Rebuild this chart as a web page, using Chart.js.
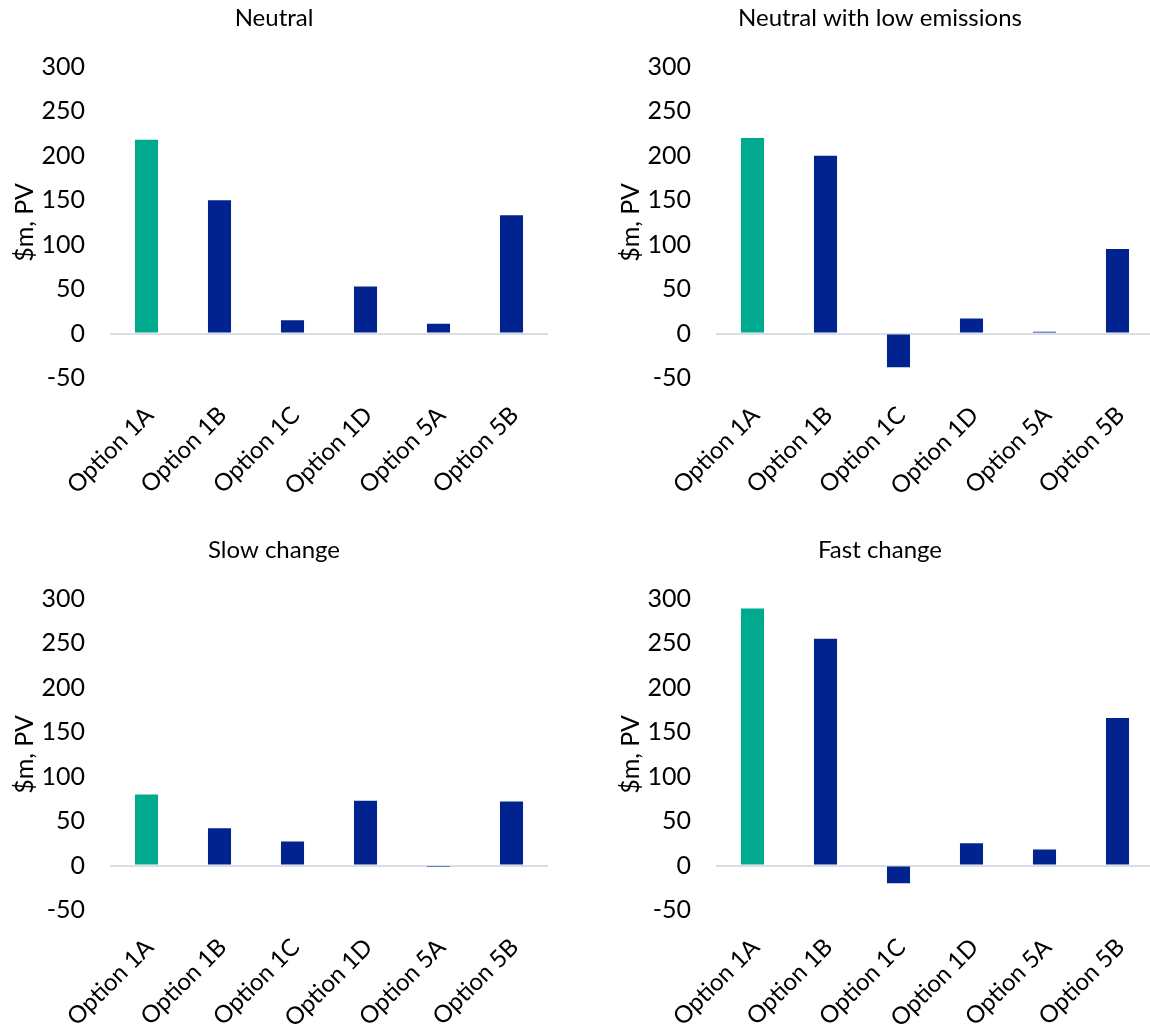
<!DOCTYPE html>
<html>
<head>
<meta charset="utf-8">
<script src="https://cdn.jsdelivr.net/npm/chart.js@4/dist/chart.umd.min.js"></script>
<style>
  html, body { margin: 0; padding: 0; background: #ffffff; }
  body { width: 1150px; height: 1025px; overflow: hidden; position: relative; }
  .panel { position: absolute; }
</style>
</head>
<body>
<div class="panel" style="left:0px;top:0px"><canvas id="c1" width="548" height="512"></canvas></div>
<div class="panel" style="left:606px;top:0px"><canvas id="c2" width="548" height="512"></canvas></div>
<div class="panel" style="left:0px;top:532px"><canvas id="c3" width="548" height="512"></canvas></div>
<div class="panel" style="left:606px;top:532px"><canvas id="c4" width="548" height="512"></canvas></div>
<script>
// Options compared in every scenario
const categories = ['Option 1A', 'Option 1B', 'Option 1C', 'Option 1D', 'Option 5A', 'Option 5B'];

// Net benefit per option, $m present value
const neutral = [218, 150, 15, 53, 11, 133];
const neutralLowEmissions = [220, 200, -38, 17, 2, 95];
const slowChange = [80, 42, 27, 73, -1.5, 72];
const fastChange = [289, 255, -20, 25, 18, 166];

// Scenario titles
const scenarioTitles = ['Neutral', 'Neutral with low emissions', 'Slow change', 'Fast change'];

// Value axis range and step
const yMin = -50;
const yMax = 300;
const yStep = 50;
const yAxisTitle = '$m, PV';

const TEAL = '#00AA8F';
const NAVY = '#00238F';
const FONT = 'Lato, "Open Sans", sans-serif';

Chart.defaults.font.family = FONT;
Chart.defaults.color = '#000000';

function barColors(values) {
  return values.map((v, i) => (i === 0 ? TEAL : NAVY));
}

function makeChart(id, title, values) {
  const ctx = document.getElementById(id).getContext('2d');
  return new Chart(ctx, {
    type: 'bar',
    data: {
      labels: categories,
      datasets: [{
        data: values,
        backgroundColor: barColors(values),
        borderWidth: 0,
        barPercentage: 0.316,
        categoryPercentage: 1.0
      }]
    },
    options: {
      responsive: false,
      animation: false,
      layout: { padding: { left: 0, right: 0, top: 0, bottom: 0 } },
      plugins: {
        legend: { display: false },
        tooltip: { enabled: false },
        title: {
          display: true,
          text: title,
          color: '#000000',
          font: { size: 24, weight: 'normal', family: FONT },
          padding: { top: 4, bottom: 34 }
        }
      },
      scales: {
        x: {
          grid: { display: false, drawTicks: false },
          border: { display: false },
          ticks: {
            autoSkip: false,
            minRotation: 45,
            maxRotation: 45,
            padding: 23,
            labelOffset: 3,
            color: '#000000',
            font: { size: 24, family: FONT }
          },
          afterFit: (scale) => {
            // keep the plot area spanning the full panel width
            scale.height = 134;
            scale.paddingLeft = 0;
            scale.paddingRight = 0;
          }
        },
        y: {
          min: yMin,
          max: yMax,
          border: { display: false },
          grid: {
            drawTicks: false,
            lineWidth: 2,
            color: (c) => (c.tick && c.tick.value === 0 ? '#d9dde4' : 'rgba(0,0,0,0)')
          },
          ticks: {
            stepSize: yStep,
            padding: 25,
            color: '#000000',
            font: { size: 25, family: FONT }
          },
          title: {
            display: true,
            text: yAxisTitle,
            color: '#000000',
            font: { size: 25, family: FONT },
            padding: { top: 10, bottom: 0 }
          },
          afterFit: (scale) => { scale.width = 110; }
        }
      }
    }
  });
}

makeChart('c1', scenarioTitles[0], neutral);
makeChart('c2', scenarioTitles[1], neutralLowEmissions);
makeChart('c3', scenarioTitles[2], slowChange);
makeChart('c4', scenarioTitles[3], fastChange);
</script>
</body>
</html>
